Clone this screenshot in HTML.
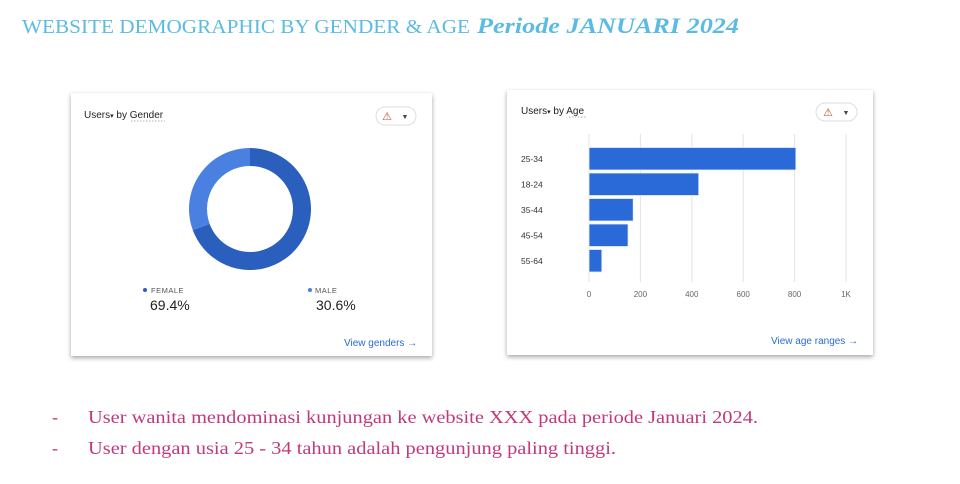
<!DOCTYPE html>
<html><head><meta charset="utf-8"><style>
html,body{margin:0;padding:0;background:#fff;width:960px;height:484px;overflow:hidden}
svg{display:block;font-family:"Liberation Sans",sans-serif}
</style></head><body>
<svg id="page" width="960" height="484" viewBox="0 0 960 484">
<defs>
<filter id="sh" x="-5%" y="-5%" width="110%" height="115%"><feDropShadow dx="0" dy="2" stdDeviation="2.5" flood-color="#000" flood-opacity="0.35"/></filter>
</defs>
<text x="22" y="33" font-family="Liberation Serif,serif" font-size="20" fill="#5bbbe0" textLength="448" lengthAdjust="spacingAndGlyphs">WEBSITE DEMOGRAPHIC BY GENDER &amp; AGE</text>
<text x="477" y="33" font-family="Liberation Serif,serif" font-size="22" font-style="italic" font-weight="bold" fill="#5bbbe0" textLength="262" lengthAdjust="spacingAndGlyphs">Periode JANUARI 2024</text>

<!-- gender card -->
<g>
<rect x="71" y="93" width="361" height="263" fill="#fff" filter="url(#sh)"/>
<text x="84" y="118" font-size="10" fill="#222">Users<tspan font-size="7">▾</tspan> by Gender</text>
<line x1="131" y1="121" x2="165" y2="121" stroke="#999" stroke-dasharray="1.5,1.5" stroke-width="0.8"/>
<rect x="376" y="107" width="40" height="18" rx="9" fill="#fff" stroke="#ddd"/>
<text x="387" y="120" font-size="11" fill="#b5542e" text-anchor="middle">⚠</text>
<text x="405" y="119" font-size="7" fill="#444" text-anchor="middle">▼</text>
<g id="donut"></g>
<circle cx="145" cy="290" r="2" fill="#2a5fbe"/>
<text x="151" y="293" font-size="7.5" fill="#555" letter-spacing="0.5">FEMALE</text>
<text x="150" y="310" font-size="14" fill="#222">69.4%</text>
<circle cx="310" cy="290" r="2" fill="#4a80e0"/>
<text x="315" y="293" font-size="7.5" fill="#555" letter-spacing="0.5">MALE</text>
<text x="316" y="310" font-size="14" fill="#222">30.6%</text>
<text x="344" y="346" font-size="10" fill="#2a6ad8">View genders  →</text>
</g>

<!-- age card -->
<g>
<rect x="507" y="90" width="366" height="265" fill="#fff" filter="url(#sh)"/>
<text x="521" y="114" font-size="10" fill="#222">Users<tspan font-size="7">▾</tspan> by Age</text>
<line x1="569" y1="117" x2="587" y2="117" stroke="#999" stroke-dasharray="1.5,1.5" stroke-width="0.8"/>
<rect x="816" y="103" width="41" height="18" rx="9" fill="#fff" stroke="#ddd"/>
<text x="828" y="116" font-size="11" fill="#b5542e" text-anchor="middle">⚠</text>
<text x="846" y="115" font-size="7" fill="#444" text-anchor="middle">▼</text>
<g id="bars"></g>
<text x="771" y="344" font-size="10" fill="#2a6ad8">View age ranges  →</text>
</g>

<g font-family="Liberation Serif,serif" font-size="18" fill="#c2387e">
<text x="52" y="423">-</text>
<text x="88" y="423" textLength="670" lengthAdjust="spacingAndGlyphs">User wanita mendominasi kunjungan ke website XXX pada periode Januari 2024.</text>
<text x="52" y="454">-</text>
<text x="88" y="454" textLength="528" lengthAdjust="spacingAndGlyphs">User dengan usia 25 - 34 tahun adalah pengunjung paling tinggi.</text>
</g>
</svg>
<script>
const genderLabels = ["female","male"];
const genderValues = [69.4, 30.6];
const genderColors = ["#2a5fbe","#4a80e0"];
const ageCategories = ["25-34","18-24","35-44","45-54","55-64"];
const ageValues = [805, 427, 172, 152, 50];
const ageTicks = [0, 200, 400, 600, 800, 1000];
const ageTickLabels = ["0","200","400","600","800","1K"];

const NS = "http://www.w3.org/2000/svg";
function mk(tag, attrs, parent){const e=document.createElementNS(NS,tag);for(const k in attrs)e.setAttribute(k,attrs[k]);parent.appendChild(e);return e;}

// donut
(function(){
  const g=document.getElementById('donut');
  const cx=250, cy=209, ro=61, ri=43;
  const total=genderValues.reduce((a,b)=>a+b,0);
  let a0=0;
  genderValues.forEach((v,i)=>{
    const a1=a0+v/total*2*Math.PI;
    const p=(r,a)=>[cx+r*Math.sin(a), cy-r*Math.cos(a)];
    const [x0,y0]=p(ro,a0),[x1,y1]=p(ro,a1),[x2,y2]=p(ri,a1),[x3,y3]=p(ri,a0);
    const lg=(a1-a0)>Math.PI?1:0;
    const path=mk('path',{d:`M${x0},${y0}A${ro},${ro} 0 ${lg} 1 ${x1},${y1}L${x2},${y2}A${ri},${ri} 0 ${lg} 0 ${x3},${y3}Z`,fill:genderColors[i]},g);
    
    
    a0=a1;
  });
})();

// bars
(function(){
  const g=document.getElementById('bars');
  const x0=589, x1=846, xmax=1000;
  const xs=v=>x0+(x1-x0)*v/xmax;
  const top=146, band=25.5;
  ageTicks.forEach((t,i)=>{
    const gl=mk('line',{x1:xs(t),x2:xs(t),y1:134,y2:282,stroke:'#e3e3e3','stroke-width':1},g);
    
    
    const tl=mk('text',{x:xs(t),y:297,'font-size':8,fill:'#666','text-anchor':'middle'},g);
    tl.textContent=ageTickLabels[i];
    
    
  });
  ageCategories.forEach((c,i)=>{
    const y=top+i*band;
    const r=mk('rect',{x:x0,y:y+1.5,width:xs(ageValues[i])-x0,height:band-3,fill:'#2a6ad8',stroke:'#e8effc','stroke-width':0.8},g);
    
    
    const t=mk('text',{x:521,y:y+band/2+3,'font-size':8.5,fill:'#333'},g);
    t.textContent=c;
    
    
  });
})();
</script>
</body></html>
